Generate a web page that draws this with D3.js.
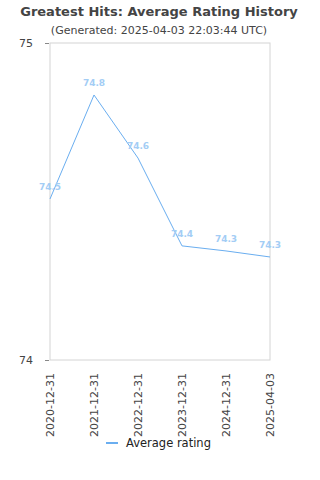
<!DOCTYPE html>
<html><head><meta charset="utf-8">
<script src="https://cdn.jsdelivr.net/npm/d3@7"></script>
<style>body{margin:0;background:#fff}svg{display:block;font-family:"DejaVu Sans",sans-serif}</style>
</head><body><svg id="c" width="320" height="480"></svg>
<script>
const categories = ["2020-12-31","2021-12-31","2022-12-31","2023-12-31","2024-12-31","2025-04-03"];
const values = [74.508, 74.836, 74.637, 74.360, 74.344, 74.325];
const yTicks = [74, 75];
const seriesName = "Average rating";

const svg = d3.select("#c");
const L=50,R=270,T=43,B=360;
const x = d3.scalePoint().domain(categories).range([L,R]);
const y = d3.scaleLinear().domain([74,75]).range([B,T]);

svg.append("text").attr("x",159).attr("y",16).attr("text-anchor","middle")
  .attr("font-size",13).attr("font-weight","bold").attr("fill","#444").text("Greatest Hits: Average Rating History");
svg.append("text").attr("x",159).attr("y",34).attr("text-anchor","middle")
  .attr("font-size",11).attr("fill","#444").text("(Generated: 2025-04-03 22:03:44 UTC)");

svg.append("rect").attr("x",L).attr("y",T).attr("width",R-L).attr("height",B-T)
  .attr("fill","none").attr("stroke","#d4d4d4");

const ya = svg.append("g").attr("transform",`translate(${L-1},0)`)
  .call(d3.axisLeft(y).tickValues(yTicks).tickSize(4).tickPadding(12).tickFormat(d3.format("d")));
ya.select(".domain").remove();
ya.selectAll("line").attr("stroke","#888");
ya.selectAll("text").attr("font-size",11).attr("fill","#444").attr("font-family","DejaVu Sans, sans-serif");

const xa = svg.append("g").attr("transform",`translate(0,${B})`)
  .call(d3.axisBottom(x).tickSize(0).tickPadding(0));
xa.select(".domain").remove();
xa.selectAll("text").attr("font-size",11).attr("fill","#444").attr("font-family","DejaVu Sans, sans-serif")
  .attr("text-anchor","end").attr("transform","rotate(-90)").attr("dx","-13").attr("dy","0.35em").attr("x",0).attr("y",0);

const line = d3.line().x((d,i)=>x(categories[i])).y(d=>y(d));
svg.append("path").datum(values).attr("d",line).attr("fill","none").attr("stroke","#6aaef0").attr("stroke-width",1);

svg.selectAll(".lbl").data(values).enter().append("text")
  .attr("x",(d,i)=>x(categories[i])).attr("y",d=>y(d)-9)
  .attr("text-anchor","middle").attr("font-size",9).attr("font-weight","bold")
  .attr("fill","#a3cdf5").text(d=>d3.format(".1f")(d));

const lg = svg.append("g");
lg.append("line").attr("x1",106).attr("x2",118).attr("y1",443).attr("y2",443).attr("stroke","#6aaef0").attr("stroke-width",2);
lg.append("text").attr("x",126).attr("y",447).attr("font-size",11.5).attr("fill","#222").text(seriesName);
</script></body></html>
